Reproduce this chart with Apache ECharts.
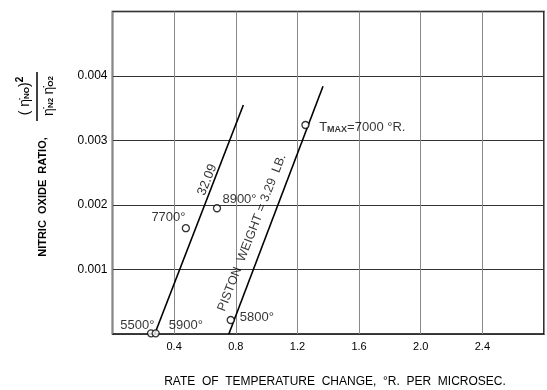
<!DOCTYPE html>
<html><head><meta charset="utf-8">
<script src="https://cdn.jsdelivr.net/npm/echarts@6/dist/echarts.min.js"></script>
<style>html,body{margin:0;padding:0;background:#fff}#c{width:547px;height:390px}</style>
</head><body><div id="c"></div>
<script>
// Data
const xTicks = ['0.4', '0.8', '1.2', '1.6', '2.0', '2.4'];
const yTicks = ['0.001', '0.002', '0.003', '0.004'];
// measured points (rate, ratio)
const pointLabels = ['5500°', '5900°', '7700°', '8900°', '5800°', 'TMAX'];
const pointX = [0.25, 0.28, 0.476, 0.678, 0.767, 1.252];
const pointY = [0.00001, 0.00001, 0.00164, 0.00195, 0.000217, 0.00324];
// fitted lines
const line1X = [0.274, 0.849];
const line1Y = [0, 0.00355];
const line2X = [0.755, 1.366];
const line2Y = [0, 0.00384];
// annotation texts and their anchor positions (data coords)
const annText = ['5500°', '5900°', '7700°', '8900°', '5800°'];
const annX = [0.161, 0.476, 0.363, 0.824, 0.937];
const annY = [0.00014, 0.00014, 0.00181, 0.00209, 0.00025];

const chart = echarts.init(document.getElementById('c'), null, {renderer: 'canvas'});
const F = '"Liberation Sans", Arial, sans-serif';
const pts = pointX.map((x, i) => [x, pointY[i]]);
const l1 = line1X.map((x, i) => [x, line1Y[i]]);
const l2 = line2X.map((x, i) => [x, line2Y[i]]);
const ann = annX.map((x, i) => ({value: [x, annY[i]], label: {formatter: annText[i]}}));

chart.setOption({
  animation: false,
  grid: {left: 112.5, right: -9.3, top: 11.5, bottom: 56, show: true, borderColor: '#000', borderWidth: 1.6},
  xAxis: {
    type: 'value', min: 0, max: 2.8, interval: 0.4,
    axisLine: {show: false}, axisTick: {show: false},
    splitLine: {show: true, lineStyle: {color: '#888', width: 1}},
    axisLabel: {
      margin: 7, color: '#000', fontFamily: F, fontSize: 11,
      formatter: v => { const s = v.toFixed(1); return xTicks.indexOf(s) >= 0 ? s : ''; }
    }
  },
  yAxis: {
    type: 'value', min: 0, max: 0.005, interval: 0.001,
    axisLine: {show: false}, axisTick: {show: false},
    splitLine: {show: true, lineStyle: {color: '#333', width: 1.2}},
    axisLabel: {
      margin: 5, color: '#000', fontFamily: F, fontSize: 12,
      formatter: v => { const s = v.toFixed(3); return yTicks.indexOf(s) >= 0 ? s : ''; }
    }
  },
  series: [
    {type: 'line', data: l1, symbol: 'none', lineStyle: {color: '#000', width: 1.6}, z: 3},
    {type: 'line', data: l2, symbol: 'none', lineStyle: {color: '#000', width: 1.6}, z: 3},
    {type: 'scatter', data: pts, symbol: 'circle', symbolSize: 7,
     itemStyle: {color: '#fff', borderColor: '#000', borderWidth: 1.3}, z: 4},
    {type: 'scatter', data: ann, symbolSize: 0,
     label: {show: true, position: 'inside', color: '#000', fontFamily: F, fontSize: 13}, z: 5},
    {type: 'scatter', symbolSize: 0, z: 5,
     data: [
       {value: [0.615, 0.00239], label: {formatter: '32.09', rotate: 68, fontSize: 13}},
       {value: [0.905, 0.00157], label: {formatter: 'PISTON  WEIGHT = 3.29  LB.', rotate: 68.6, fontSize: 12.5}},
       {value: [1.341, 0.00321], label: {formatter: '{a|T}{b|MAX}{a|=7000 °R.}', position: 'right', distance: 0,
         rich: {a: {fontSize: 13, fontFamily: F, color: '#000'}, b: {fontSize: 9, fontFamily: F, color: '#000', fontWeight: 'bold', padding: [6, 0, 0, 0]}}}}
     ],
     label: {show: true, position: 'inside', color: '#000', fontFamily: F}}
  ],
  graphic: [
    {type: 'text', x: 335, y: 382, style: {text: 'RATE  OF  TEMPERATURE  CHANGE,  °R.  PER  MICROSEC.', font: '12px ' + F, fill: '#000', align: 'center', verticalAlign: 'middle'}},
    {type: 'text', x: 43, y: 197, rotation: Math.PI / 2, style: {text: 'NITRIC  OXIDE  RATIO,', font: 'bold 11px ' + F, fill: '#000', align: 'center', verticalAlign: 'middle'}},
    {type: 'text', x: 25, y: 96, rotation: Math.PI / 2, style: {text: '{p|( }{n|η̇}{s|NO}{p|)}{u|2}', align: 'center', verticalAlign: 'middle',
      rich: {p: {font: '14px ' + F, fill: '#000'}, n: {font: '14px ' + F, fill: '#000'}, s: {font: 'bold 8px ' + F, fill: '#000', padding: [4, 0, 0, 0]}, u: {font: 'bold 10px ' + F, fill: '#000', padding: [0, 0, 10, 0]}}}},
    {type: 'line', shape: {x1: 37, y1: 72, x2: 37, y2: 121}, style: {stroke: '#000', lineWidth: 1.5}},
    {type: 'text', x: 49, y: 96, rotation: Math.PI / 2, style: {text: '{n|η̇}{s|N2} {n|η̇}{s|O2}', align: 'center', verticalAlign: 'middle',
      rich: {n: {font: '14px ' + F, fill: '#000'}, s: {font: 'bold 8px ' + F, fill: '#000', padding: [4, 0, 0, 0]}}}}
  ]
});
</script></body></html>
